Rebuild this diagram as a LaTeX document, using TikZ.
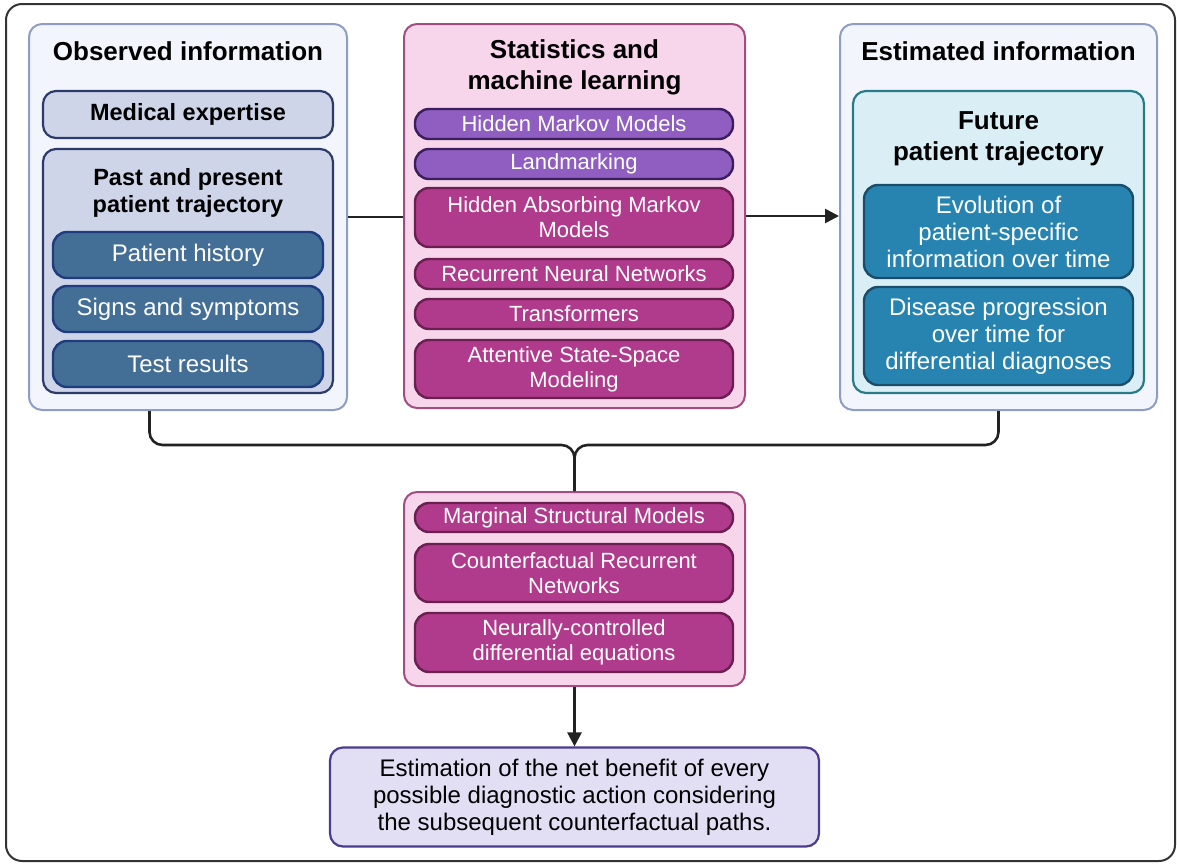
\documentclass[tikz,border=0pt]{standalone}
\usepackage{fontspec}
\setmainfont{Liberation Sans}
\usetikzlibrary{arrows.meta}
\definecolor{frame}{HTML}{333333}
\definecolor{panelfill}{HTML}{F2F5FB}
\definecolor{panelline}{HTML}{8E9DC4}
\definecolor{greyfill}{HTML}{CED5E9}
\definecolor{greyline}{HTML}{2D3B6B}
\definecolor{steelfill}{HTML}{436E96}
\definecolor{steelline}{HTML}{1F3C7E}
\definecolor{pinkfill}{HTML}{F7D6EC}
\definecolor{pinkline}{HTML}{A34C80}
\definecolor{purpfill}{HTML}{8F5EC0}
\definecolor{purpline}{HTML}{3B1E5E}
\definecolor{magfill}{HTML}{B03A8C}
\definecolor{magline}{HTML}{6B1E50}
\definecolor{cyanfill}{HTML}{D9EFF5}
\definecolor{cyanline}{HTML}{2A7B8A}
\definecolor{tealfill}{HTML}{2784B1}
\definecolor{tealline}{HTML}{1B4D6B}
\definecolor{lavfill}{HTML}{E2DFF4}
\definecolor{lavline}{HTML}{4C3B93}
\definecolor{conncol}{HTML}{222222}
\tikzset{
  box/.style={rectangle, inner sep=0pt, align=center},
  panel/.style={box, draw=panelline, fill=panelfill, line width=2pt, rounded corners=13pt},
  pinkpanel/.style={box, draw=pinkline, fill=pinkfill, line width=2pt, rounded corners=13pt},
  gbox/.style={box, draw=greyline, fill=greyfill, line width=2.2pt, rounded corners=13pt},
  cbox/.style={box, draw=cyanline, fill=cyanfill, line width=2.2pt, rounded corners=13pt},
  steel/.style={box, draw=steelline, fill=steelfill, line width=2.4pt, rounded corners=14pt, text=white,
     font=\fontsize{24}{27}\selectfont},
  purp/.style={box, draw=purpline, fill=purpfill, line width=2.4pt, rounded corners=14pt, text=white,
     font=\fontsize{22}{25}\selectfont},
  mag/.style={box, draw=magline, fill=magfill, line width=2.4pt, rounded corners=14pt, text=white,
     font=\fontsize{22}{25}\selectfont},
  teal/.style={box, draw=tealline, fill=tealfill, line width=2.4pt, rounded corners=14pt, text=white,
     font=\fontsize{24}{27}\selectfont},
  lav/.style={box, draw=lavline, fill=lavfill, line width=2.2pt, rounded corners=13pt,
     font=\fontsize{24}{27}\selectfont},
  ttl/.style={box, font=\bfseries\fontsize{26}{31}\selectfont},
  subttl/.style={box, font=\bfseries\fontsize{23.5}{27}\selectfont},
  conn/.style={draw=conncol, line width=2.6pt},
  arr/.style={-{Triangle[length=14pt,width=14pt]}},
}
\begin{document}
\begin{tikzpicture}[x=1pt,y=-1pt]
\useasboundingbox (0,0) rectangle (1177,865);
\draw[frame, line width=2pt, rounded corners=16pt] (6,4) rectangle (1175,861);

% Left panel
\node[panel, minimum width=318pt, minimum height=386pt] (obs) at (188,217) {};
\node[ttl] (obsT) at (188,51) {Observed information};
\node[gbox, minimum width=290pt, minimum height=47pt, font=\bfseries\fontsize{23.5}{27}\selectfont] (med) at (188,114.5) {Medical expertise};
\node[gbox, minimum width=290pt, minimum height=244pt] (past) at (188,271) {};
\node[subttl] (pastT) at (188,192.5) {Past and present\\patient trajectory};
\node[steel, minimum width=270pt, minimum height=46pt] (ph) at (188,255) {Patient history};
\node[steel, minimum width=270pt, minimum height=46pt] (ss) at (188,309) {Signs and symptoms};
\node[steel, minimum width=270pt, minimum height=46pt] (tr) at (188,364) {Test results};

% Middle panel
\node[pinkpanel, minimum width=341pt, minimum height=384pt] (stats) at (574.5,216) {};
\node[ttl] (statsT) at (574.5,67) {Statistics and\\machine learning};
\node[purp, minimum width=318pt, minimum height=30pt] (hmm) at (574,124) {Hidden Markov Models};
\node[purp, minimum width=318pt, minimum height=30pt] (land) at (574,164) {Landmarking};
\node[mag, minimum width=318pt, minimum height=59pt] (hamm) at (574,217.5) {Hidden Absorbing Markov\\Models};
\node[mag, minimum width=318pt, minimum height=30pt] (rnn) at (574,274) {Recurrent Neural Networks};
\node[mag, minimum width=318pt, minimum height=30pt] (trans) at (574,314) {Transformers};
\node[mag, minimum width=318pt, minimum height=58pt] (assm) at (574,369) {Attentive State-Space\\Modeling};

% Right panel
\node[panel, minimum width=317pt, minimum height=386pt] (est) at (998.5,217) {};
\node[ttl] (estT) at (998.5,51) {Estimated information};
\node[cbox, minimum width=291pt, minimum height=302pt] (fut) at (998.5,242) {};
\node[ttl] (futT) at (998.5,138.5) {Future\\patient trajectory};
\node[teal, minimum width=269pt, minimum height=93pt] (evo) at (998.5,231.5) {Evolution of\\patient-specific\\information over time};
\node[teal, minimum width=269pt, minimum height=98pt] (dis) at (998.5,336) {Disease progression\\over time for\\differential diagnoses};

% Lower middle panel
\node[pinkpanel, minimum width=341pt, minimum height=194pt] (mid) at (574.5,589) {};
\node[mag, minimum width=318pt, minimum height=29pt] (msm) at (574,517.5) {Marginal Structural Models};
\node[mag, minimum width=318pt, minimum height=58pt] (crn) at (574,573) {Counterfactual Recurrent\\Networks};
\node[mag, minimum width=318pt, minimum height=59pt] (ncde) at (574,642.5) {Neurally-controlled\\differential equations};

% Bottom box
\node[lav, minimum width=489pt, minimum height=99pt] (estim) at (574.5,797) {Estimation of the net benefit of every\\possible diagnostic action considering\\the subsequent counterfactual paths.};

% Connectors
\draw[conn] (obs.east) -- (obs.east -| stats.west);
\draw[conn, arr] (stats.east) -- (stats.east -| est.west);
\coordinate (j) at (574.5,445);
\draw[conn, rounded corners=13pt] ([xshift=-38.5pt]obs.south) |- (j) -- (mid.north);
\draw[conn, rounded corners=13pt] (est.south) |- (j) -- (mid.north);
\draw[conn, arr] (mid.south) -- (estim.north);
\end{tikzpicture}
\end{document}
